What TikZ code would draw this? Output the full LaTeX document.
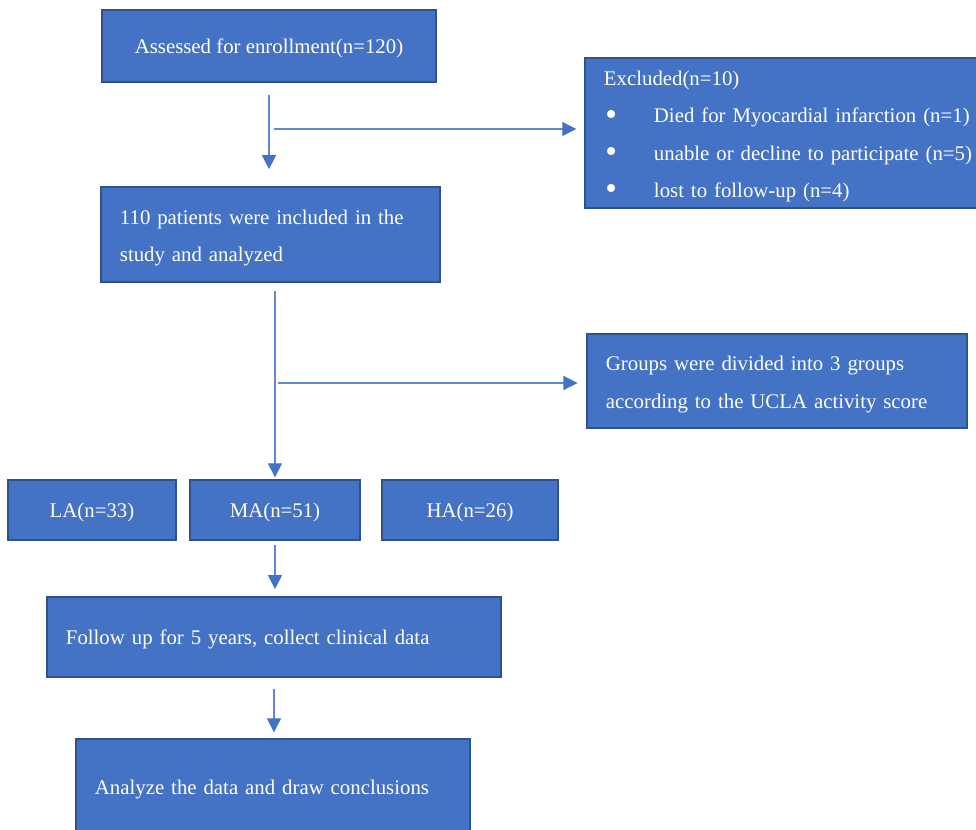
\documentclass[tikz,border=0pt]{standalone}
\usepackage{fontspec}
\setmainfont{Liberation Serif}
\usetikzlibrary{arrows.meta}
\definecolor{boxblue}{HTML}{4472C4}
\definecolor{boxedge}{HTML}{2F528F}
\definecolor{lineblue}{HTML}{6088D4}
\newcommand{\exitem}[1]{\mbox{\makebox[1.25cm][l]{\hspace{1pt}\raisebox{-0.12em}{\scalebox{1.6}{\textbullet}}}#1}}
\newcommand{\toppad}{\rule{0pt}{15pt}}
\begin{document}
\begin{tikzpicture}[x=0.025cm,y=-0.025cm]
	\tikzstyle{flowbox}=[rectangle,draw=boxedge,line width=0.9pt,fill=boxblue,text=white,font=\fontsize{14.8}{26.6}\selectfont,inner sep=0pt]
	\tikzstyle{onebox}=[flowbox,text depth=0pt]
	\tikzstyle{leftbox}=[flowbox,align=left,inner xsep=0.475cm]
	\tikzstyle{flowarrow}=[draw=lineblue,line width=0.8pt,-{Triangle[width=10pt,length=10pt,color=boxblue]}]
	\useasboundingbox (0,0) rectangle (976,830);
	% main column
	\node[onebox,minimum width=8.35cm,minimum height=1.8cm] (assess) at (269,46) {Assessed for enrollment(n=120)};
	\node[leftbox,minimum width=8.475cm,minimum height=2.375cm,text width=7.525cm] (incl) at (270.5,234.5) {\toppad 110 patients were included in the\\study and analyzed};
	% side boxes
	\node[leftbox,minimum width=9.8cm,minimum height=3.75cm,text width=8.85cm] (excl) at (781,133) {\toppad Excluded(n=10)\\\exitem{Died for Myocardial infarction (n=1)}\\\exitem{unable or decline to participate (n=5)}\\\exitem{lost to follow-up (n=4)}};
	\node[leftbox,minimum width=9.5cm,minimum height=2.35cm,text width=8.55cm] (groups) at (777,381) {\toppad Groups were divided into 3 groups\\\mbox{according to the UCLA activity score}};
	% the three groups
	\node[onebox,minimum width=4.2cm,minimum height=1.5cm] (la) at (92,510) {LA(n=33)};
	\node[onebox,minimum width=4.25cm,minimum height=1.5cm] (ma) at (275,510) {MA(n=51)};
	\node[onebox,minimum width=4.4cm,minimum height=1.5cm] (ha) at (470,510) {HA(n=26)};
	%\node[onebox,minimum width=4.4cm,minimum height=1.5cm] (ha) at (470,512) {HA(n=26)};
	\node[leftbox,text depth=0pt,minimum width=11.35cm,minimum height=2cm,text width=10.4cm] (follow) at (274,637) {Follow up for 5 years, collect clinical data};
	\node[leftbox,text depth=0pt,minimum width=9.85cm,minimum height=2.4cm,text width=8.9cm] (analyze) at (273,787) {Analyze the data and draw conclusions};
	% split points
	\coordinate (split1) at (274,129);
	\coordinate (split2) at (278,383);
	\draw[flowarrow,shorten <=0.3cm,shorten >=0.43cm] (assess.south) -- (assess.south |- incl.north);
	\draw[flowarrow,shorten >=0.2cm] (split1) -- (split1 -| excl.west);
	\draw[flowarrow,shorten <=0.2cm,shorten >=0.05cm] (ma.north |- incl.south) -- (ma.north);
	\draw[flowarrow,shorten >=0.22cm] (split2) -- (split2 -| groups.west);
	\draw[flowarrow,shorten <=0.12cm,shorten >=0.18cm] (ma.south) -- (ma.south |- follow.north);
	\draw[flowarrow,shorten <=0.28cm,shorten >=0.15cm] (follow.south) -- (follow.south |- analyze.north);
\end{tikzpicture}
\end{document}
